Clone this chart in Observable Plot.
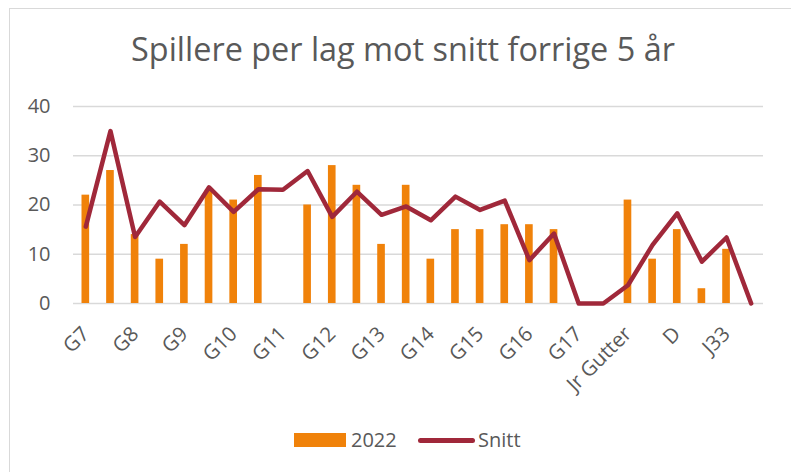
<!DOCTYPE html>
<html>
<head>
<meta charset="utf-8">
<script src="https://cdn.jsdelivr.net/npm/d3@7"></script>
<script src="https://cdn.jsdelivr.net/npm/@observablehq/plot@0.6"></script>
<style>
  html, body { margin: 0; padding: 0; background: #fff; }
  body { width: 791px; height: 472px; position: relative; overflow: hidden; font-family: "Open Sans", sans-serif; }
  #frame { position: absolute; left: 9px; top: 8px; width: 820px; height: 500px; border-left: 1.5px solid #d9d9d9; border-top: 1.5px solid #d9d9d9; box-sizing: border-box; }
  #title { position: absolute; left: 9px; width: 788px; top: 32px; text-align: center; font-size: 32.4px; line-height: 32px; color: #595959; white-space: nowrap; }
  #chart { position: absolute; left: 0; top: 84px; }
  #legend { position: absolute; left: 0; top: 428px; width: 791px; height: 24px; font-size: 20px; color: #595959; }
  .sw { position: absolute; }
  .lab { position: absolute; line-height: 24px; top: 0; }
</style>
</head>
<body>
<div id="frame"></div>
<div id="title"></div>
<div id="chart"></div>
<div id="legend"></div>
<script>
const titleText = "Spillere per lag mot snitt forrige 5 år";
const categories = ["G7","J7","G8","J8","G9","J9","G10","J10","G11","J11","G12","J12","G13","J13","G14","J14","G15","J15","G16","J16","G17","J17","Jr Gutter","Jr Jenter","D","H","J33","G33"];
const values2022 = [22,27,14,9,12,23,21,26,0,20,28,24,12,24,9,15,15,16,16,15,0,0,21,9,15,3,11,0];
const snitt = [15.6,35,13.5,20.7,15.9,23.6,18.6,23.2,23.1,26.9,17.6,22.7,18.0,19.7,16.9,21.7,19.0,20.9,8.8,14.2,0,0,3.7,11.9,18.3,8.5,13.4,0];
const xTickLabels = ["G7","G8","G9","G10","G11","G12","G13","G14","G15","G16","G17","Jr Gutter","D","J33"];
const yTicks = [0,10,20,30,40];
const seriesNames = ["2022","Snitt"];
const barColor = "#F0820A";
const lineColor = "#A0283A";

const data = categories.map((c, i) => ({cat: c, v: values2022[i], s: snitt[i]}));

document.getElementById("title").textContent = titleText;

const chart = Plot.plot({
  width: 791,
  height: 330,
  marginLeft: 73,
  marginRight: 28,
  marginTop: 22,
  marginBottom: 111,
  style: {fontFamily: "Open Sans", fontSize: "20px", color: "#595959", background: "transparent", overflow: "visible"},
  x: {domain: categories, paddingInner: 0.69, paddingOuter: 0.345, round: false, label: null, axis: null},
  y: {domain: [0, 40], label: null, axis: null},
  marks: [
    Plot.gridY(yTicks, {stroke: "#d9d9d9", strokeOpacity: 1, strokeWidth: 1.5}),
    Plot.barY(data, {x: "cat", y: "v", fill: barColor}),
    Plot.line(data, {x: "cat", y: "s", stroke: lineColor, strokeWidth: 4.5, strokeLinejoin: "round", strokeLinecap: "round"}),
    Plot.axisY(yTicks, {tickSize: 0, tickPadding: 23, label: null, fill: "#595959", fontSize: 20}),
    Plot.axisX(xTickLabels, {tickSize: 0, tickPadding: 12, dy: 15, tickRotate: -45, label: null, fill: "#595959", fontSize: 20.5})
  ]
});
document.getElementById("chart").appendChild(chart);

const legend = document.getElementById("legend");
legend.innerHTML =
  `<div class="sw" style="left:294px;top:5px;width:52px;height:14px;background:${barColor}"></div>` +
  `<div class="lab" style="left:351px">${seriesNames[0]}</div>` +
  `<div class="sw" style="left:418px;top:10px;width:57px;height:5px;border-radius:3px;background:${lineColor}"></div>` +
  `<div class="lab" style="left:478px">${seriesNames[1]}</div>`;
</script>
</body>
</html>
